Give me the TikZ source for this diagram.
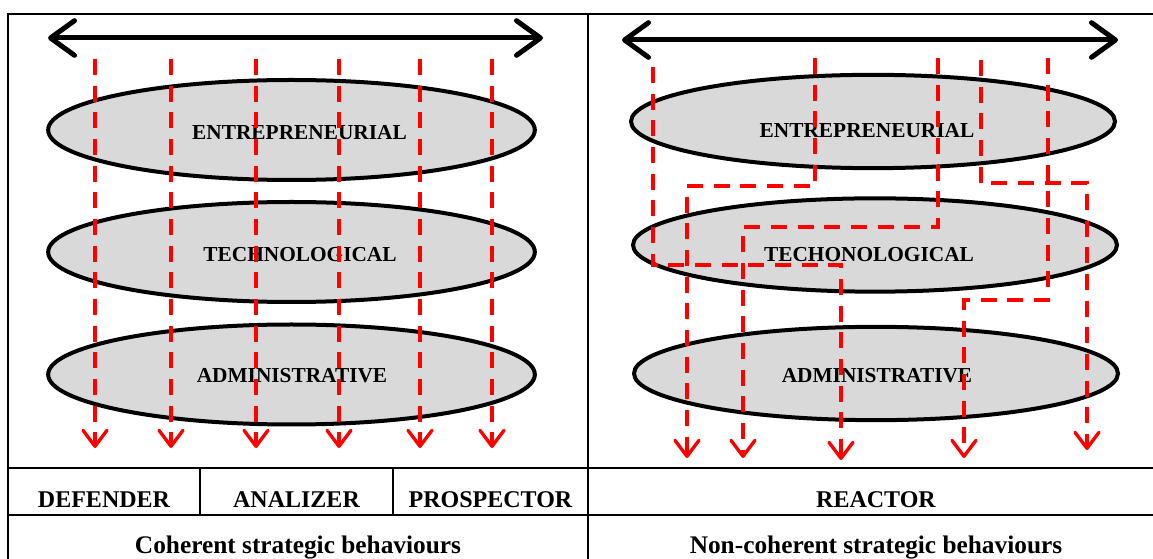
\documentclass[tikz,border=0pt]{standalone}
\usepackage{fontspec}
\setmainfont{Liberation Serif}
\usetikzlibrary{arrows.meta,shapes.geometric}
\begin{document}
\begin{tikzpicture}[x=0.75pt,y=-0.75pt,
  frame/.style={line width=1.5pt},
  layerL/.style={ellipse,draw,line width=3pt,fill=black!15,inner sep=0,minimum width=365pt,minimum height=75pt},
  layerR/.style={ellipse,draw,line width=3pt,fill=black!15,inner sep=0,minimum width=363pt,minimum height=70pt},
  lbl/.style={anchor=base,inner sep=0,font=\fontsize{16}{18}\selectfont\bfseries},
  cell/.style={anchor=base,inner sep=0,font=\fontsize{18}{20}\selectfont\bfseries},
  foot/.style={anchor=base,inner sep=0,font=\fontsize{19}{21}\selectfont\bfseries},
  span/.style={line width=3.75pt,{Straight Barb[length=18pt,width=26pt,round]}-{Straight Barb[length=18pt,width=26pt,round]}},
  reddash/.style={red,line width=2.5pt,dash pattern=on 12pt off 8pt,-{Straight Barb[length=12pt,width=18pt,round]}}]
\useasboundingbox (0,0) rectangle (1153,559);
% table
\draw[frame] (1153,14) -- (8,14) -- (8,559);
\draw[frame] (588,14) -- (588,559);
\draw[frame] (8,468) -- (1153,468) (8,515) -- (1153,515);
\draw[frame] (200,468) -- (200,515) (393,468) -- (393,515);
% coherent side
\node[layerL] (entL) at (291.5,130) {};
\node[layerL] (tecL) at (291.5,252) {};
\node[layerL] (admL) at (291.5,374.5) {};
\node[lbl] (entLt) at (299.5,140) {ENTREPRENEURIAL};
\node[lbl] (tecLt) at (300,262) {TECHNOLOGICAL};
\node[lbl] (admLt) at (292,383) {ADMINISTRATIVE};
\foreach \x [count=\i] in {95,171,256,339,420,492} {
  \coordinate (top\i) at (\x,59);
  \coordinate (bot\i) at (\x,448);
  \draw[reddash] (top\i) -- (bot\i);
}
\coordinate (spanLw) at (48,38);
\coordinate (spanLe) at (543,38);
\draw[span] (spanLw) -- (spanLe);
% non-coherent side
\node[layerR] (entR) at (873,121.5) {};
\node[layerR] (tecR) at (875,245) {};
\node[layerR] (admR) at (876,373.5) {};
\node[lbl] (entRt) at (867,138) {ENTREPRENEURIAL};
\node[lbl] (tecRt) at (869,262) {TECHONOLOGICAL};
\node[lbl] (admRt) at (877,383) {ADMINISTRATIVE};
\coordinate (ra) at (653,67);   \coordinate (rA) at (841,460);
\coordinate (rb) at (815,58);   \coordinate (rB) at (687,458);
\coordinate (rc) at (938,58);   \coordinate (rC) at (743,458);
\coordinate (rd) at (981,60);   \coordinate (rD) at (1087,450);
\coordinate (rf) at (1048,58);  \coordinate (rF) at (964,458);
\draw[reddash] (ra) -- (653,265) -| (rA);
\draw[reddash] (rb) -- (815,186) -| (rB);
\draw[reddash] (rc) -- (938,227) -| (rC);
\draw[reddash] (rd) -- (981,183) -| (rD);
\draw[reddash] (rf) -- (1048,300) -| (rF);
\coordinate (spanRw) at (622,40);
\coordinate (spanRe) at (1118,40);
\draw[span] (spanRw) -- (spanRe);
% labels
\node[cell] (def) at (104,507) {DEFENDER};
\node[cell] (ana) at (296.5,507) {ANALIZER};
\node[cell] (pro) at (490.5,507) {PROSPECTOR};
\node[cell] (rea) at (876,507) {REACTOR};
\node[foot] (coh) at (298,553) {Coherent strategic behaviours};
\node[foot] (non) at (876,553) {Non-coherent strategic behaviours};
\end{tikzpicture}
\end{document}
